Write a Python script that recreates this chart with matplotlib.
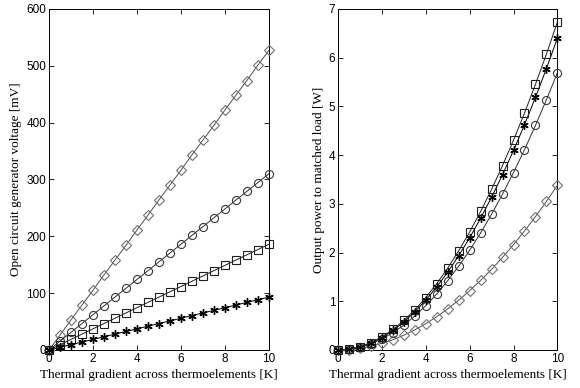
import matplotlib
matplotlib.use("Agg")
import matplotlib.pyplot as plt

x = [0, 0.5, 1, 1.5, 2, 2.5, 3, 3.5, 4, 4.5, 5, 5.5, 6, 6.5, 7, 7.5, 8, 8.5, 9, 9.5, 10]

v_diamond = [0, 26, 53, 79, 105, 132, 158, 184, 211, 237, 264, 290, 316, 343, 369, 395, 422, 448, 474, 501, 527]
v_circle = [0, 15.5, 31, 46.5, 62, 77.5, 93, 108.5, 124, 139.5, 155, 170.5, 186, 201.5, 217, 232.5, 248, 263.5, 279, 294.5, 310]
v_square = [0, 9.3, 18.6, 27.9, 37.2, 46.5, 55.8, 65.1, 74.4, 83.7, 93, 102.3, 111.6, 120.9, 130.2, 139.5, 148.8, 158.1, 167.4, 176.7, 186]
v_star = [0, 4.65, 9.3, 13.95, 18.6, 23.25, 27.9, 32.55, 37.2, 41.85, 46.5, 51.15, 55.8, 60.45, 65.1, 69.75, 74.4, 79.05, 83.7, 88.35, 93]

p_square = [0, 0.017, 0.067, 0.151, 0.269, 0.421, 0.606, 0.824, 1.077, 1.363, 1.683, 2.036, 2.423, 2.843, 3.298, 3.786, 4.307, 4.862, 5.451, 6.074, 6.73]
p_star = [0, 0.016, 0.064, 0.144, 0.256, 0.4, 0.576, 0.784, 1.024, 1.296, 1.6, 1.936, 2.304, 2.704, 3.136, 3.6, 4.096, 4.624, 5.184, 5.776, 6.4]
p_circle = [0, 0.014, 0.057, 0.128, 0.228, 0.356, 0.512, 0.697, 0.910, 1.152, 1.423, 1.721, 2.048, 2.404, 2.788, 3.201, 3.642, 4.111, 4.609, 5.135, 5.69]
p_diamond = [0, 0.008, 0.034, 0.076, 0.135, 0.211, 0.304, 0.414, 0.541, 0.684, 0.845, 1.022, 1.217, 1.428, 1.656, 1.901, 2.163, 2.442, 2.738, 3.050, 3.38]

xlabel = "Thermal gradient across thermoelements [K]"
ylabel_left = "Open circuit generator voltage [mV]"
ylabel_right = "Output power to matched load [W]"

fig = plt.figure(figsize=(5.8, 3.88), dpi=100)
ax1 = fig.add_axes([0.0845, 0.098, 0.379, 0.879])
ax2 = fig.add_axes([0.583, 0.098, 0.378, 0.879])

ast = (6, 2, 0)
styles = {
    "diamond": dict(marker="D", markersize=4.8, mfc="none", mec="#707070", color="#505050"),
    "circle": dict(marker="o", markersize=5.8, mfc="none", mec="#383838", color="#303030"),
    "square": dict(marker="s", markersize=5.6, mfc="none", mec="#202020", color="#202020"),
    "star": dict(marker=ast, markersize=6, mfc="none", mec="#000000", color="#000000", mew=1.0),
}

def plot(ax, y, key):
    st = dict(styles[key])
    mew = st.pop("mew", 0.8)
    ax.plot(x, y, lw=0.7, mew=mew, clip_on=False, zorder=3, **st)

plot(ax1, v_diamond, "diamond")
plot(ax1, v_circle, "circle")
plot(ax1, v_square, "square")
plot(ax1, v_star, "star")

plot(ax2, p_diamond, "diamond")
plot(ax2, p_circle, "circle")
plot(ax2, p_star, "star")
plot(ax2, p_square, "square")

serif = "Liberation Serif"
for ax, ylim, yticks, yl in [
    (ax1, (0, 600), range(0, 601, 100), ylabel_left),
    (ax2, (0, 7), range(0, 8), ylabel_right),
]:
    ax.set_xlim(0, 10)
    ax.set_ylim(*ylim)
    ax.set_xticks(range(0, 11, 2))
    ax.set_yticks(list(yticks))
    ax.tick_params(direction="in", top=True, right=True, length=3.5, width=0.6,
                   labelsize=8.5, pad=2)
    for lab in ax.get_xticklabels() + ax.get_yticklabels():
        lab.set_fontfamily("Liberation Sans")
    for s in ax.spines.values():
        s.set_linewidth(0.7)
    ax.set_xlabel(xlabel, fontfamily=serif, fontsize=9.5, labelpad=3)
    ax.set_ylabel(yl, fontfamily=serif, fontsize=9.5, labelpad=3)

fig.savefig("out.png", dpi=100)
